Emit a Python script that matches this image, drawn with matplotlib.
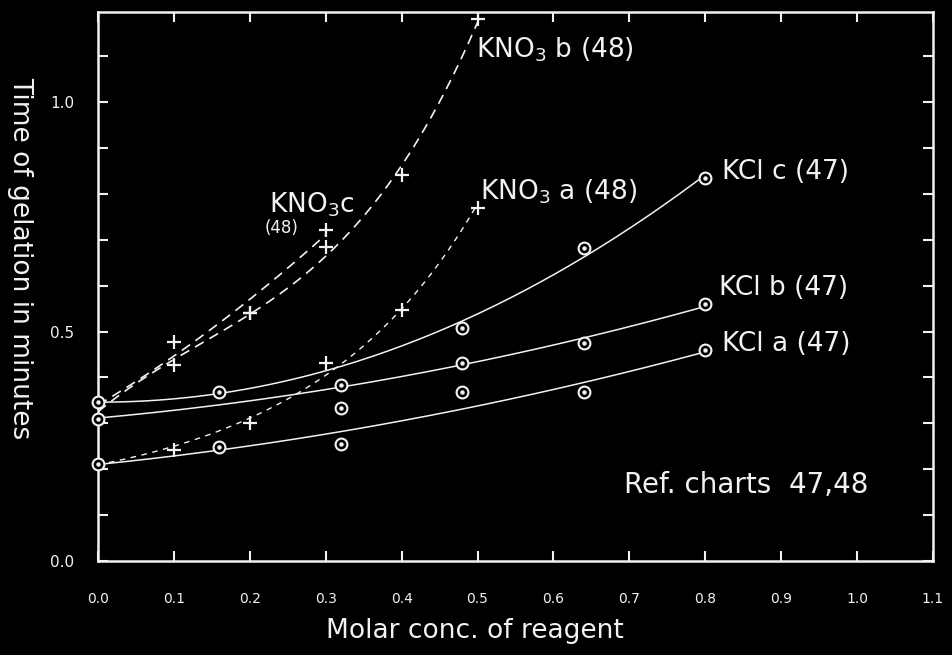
import numpy as np
import matplotlib
matplotlib.use('Agg')
import matplotlib.pyplot as plt

# ── data ──────────────────────────────────────────────────────────────────────
KCL_C_X = [0.0, 0.16, 0.48, 0.64, 0.80]
KCL_C_Y = [0.346, 0.368, 0.508, 0.682, 0.834]
KCL_B_X = [0.0, 0.32, 0.48, 0.64, 0.80]
KCL_B_Y = [0.310, 0.383, 0.431, 0.475, 0.560]
KCL_A_X = [0.0, 0.16, 0.32, 0.48, 0.64, 0.80]
KCL_A_Y = [0.211, 0.248, 0.255, 0.368, 0.368, 0.460]
KCL_EXTRA_X = [0.32]
KCL_EXTRA_Y = [0.333]

KNO3_START = 0.33      # curves b and c leave the y axis here
KNO3A_START = 0.215
KNO3_C_X = [0.1, 0.2, 0.3]
KNO3_C_Y = [0.477, 0.540, 0.721]
KNO3_B_X = [0.1, 0.2, 0.3, 0.4, 0.5]
KNO3_B_Y = [0.427, 0.540, 0.684, 0.841, 1.18]
KNO3_A_X = [0.1, 0.2, 0.3, 0.4, 0.5]
KNO3_A_Y = [0.242, 0.300, 0.431, 0.547, 0.769]

X_TICKS = [round(0.1 * i, 1) for i in range(12)]
X_TICKLABELS = ['0.0', '0.1', '0.2', '0.3', '0.4', '0.5', '0.6', '0.7',
                '0.8', '0.9', '1.0', '1.1']
Y_TICKS = [0.0, 0.5, 1.0]
Y_TICKLABELS = ['0.0', '0.5', '1.0']

FG = '#f2f2f2'
BG = '#000000'

# ── figure ────────────────────────────────────────────────────────────────────
fig = plt.figure(figsize=(9.52, 6.55), dpi=100, facecolor=BG)
ax = fig.add_axes([0.103, 0.1435, 0.877, 0.838], facecolor=BG)


def smooth(xs, ys, deg, log=False, x0=None, y0=None):
    xs = np.asarray(xs, float)
    ys = np.asarray(ys, float)
    if x0 is not None:
        xs = np.r_[x0, xs]
        ys = np.r_[y0, ys]
    xx = np.linspace(xs.min(), xs.max(), 200)
    if log:
        c = np.polyfit(xs, np.log(ys), deg)
        return xx, np.exp(np.polyval(c, xx))
    c = np.polyfit(xs, ys, deg)
    return xx, np.polyval(c, xx)


# KCl curves (solid)
for xs, ys in [(KCL_C_X, KCL_C_Y), (KCL_B_X, KCL_B_Y), (KCL_A_X, KCL_A_Y)]:
    xx, yy = smooth(xs, ys, 2)
    ax.plot(xx, yy, color=FG, lw=1.1, zorder=2)

# KNO3 curves (dashed)
xx, yy = smooth(KNO3_C_X, KNO3_C_Y, 2, x0=0.0, y0=KNO3_START)
ax.plot(xx, yy, color=FG, lw=1.2, ls=(0, (6, 4)), zorder=2)
xx, yy = smooth(KNO3_B_X, KNO3_B_Y, 3, x0=0.0, y0=KNO3_START)
ax.plot(xx, yy, color=FG, lw=1.2, ls=(0, (6, 4)), zorder=2)
xx, yy = smooth(KNO3_A_X, KNO3_A_Y, 2, log=True, x0=0.0, y0=KNO3A_START)
ax.plot(xx, yy, color=FG, lw=1.0, ls=(0, (4, 4)), zorder=2)

# markers
for xs, ys in [(KCL_C_X, KCL_C_Y), (KCL_B_X, KCL_B_Y), (KCL_A_X, KCL_A_Y),
               (KCL_EXTRA_X, KCL_EXTRA_Y)]:
    ax.plot(xs, ys, 'o', ms=8.5, mfc=BG, mec=FG, mew=1.5, zorder=4,
            clip_on=False)
    ax.plot(xs, ys, 'o', ms=2.2, mfc=FG, mec=FG, zorder=5, clip_on=False)

for xs, ys in [(KNO3_C_X, KNO3_C_Y), (KNO3_B_X, KNO3_B_Y),
               (KNO3_A_X, KNO3_A_Y)]:
    ax.plot(xs, ys, '+', ms=10, mew=1.6, color=FG, zorder=4, clip_on=False)

# ── labels on the curves ──────────────────────────────────────────────────────
lab = dict(color=FG, va='center', ha='left', fontsize=19)
ax.text(0.498, 1.113, 'KNO$_3$ b (48)', **lab)
ax.text(0.225, 0.776, 'KNO$_3$c', **lab)
ax.text(0.219, 0.725, '(48)', color=FG, va='center', ha='left', fontsize=12)
ax.text(0.503, 0.804, 'KNO$_3$ a (48)', **lab)
ax.text(0.822, 0.847, 'KCl c (47)', **lab)
ax.text(0.818, 0.595, 'KCl b (47)', **lab)
ax.text(0.822, 0.473, 'KCl a (47)', **lab)
ax.text(0.693, 0.166, 'Ref. charts  47,48', color=FG, va='center', ha='left',
        fontsize=20)

# ── axes styling ──────────────────────────────────────────────────────────────
ax.set_xlim(0, 1.1)
ax.set_ylim(0, 1.196)
for s in ax.spines.values():
    s.set_color(FG)
    s.set_linewidth(1.8)

ax.set_xticks(X_TICKS)
ax.set_xticklabels(X_TICKLABELS)
ax.set_yticks(Y_TICKS)
ax.set_yticklabels(Y_TICKLABELS)
ax.set_yticks([round(0.1 * i, 1) for i in range(12)], minor=True)
ax.tick_params(axis='both', which='both', direction='in', color=FG,
               labelcolor=FG, top=True, right=True, width=1.5)
ax.tick_params(axis='x', which='major', length=7, labelsize=10, pad=22)
ax.tick_params(axis='y', which='major', length=7, labelsize=11, pad=17)
ax.tick_params(axis='y', which='minor', length=7)

fig.text(0.499, 0.037, 'Molar conc. of reagent', color=FG, fontsize=19,
         ha='center', va='center')
fig.text(0.021, 0.606, 'Time of gelation in minutes', color=FG, fontsize=19,
         ha='center', va='center', rotation=270)

fig.savefig('out.png', dpi=100, facecolor=BG)
